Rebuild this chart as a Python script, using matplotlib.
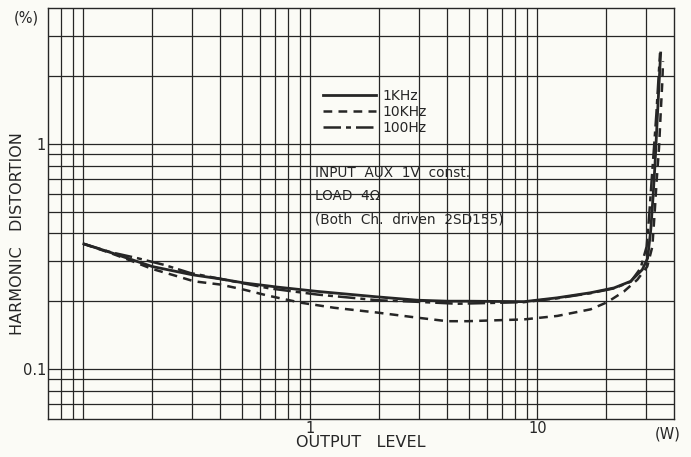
import matplotlib
matplotlib.use('Agg')
import matplotlib.pyplot as plt

# Output level (W) and distortion (%)
x_1k = [0.1007, 0.132, 0.1616, 0.2014, 0.302, 0.4026, 0.5105, 0.6466, 0.7155, 1.074, 1.973, 2.96,
        4.01, 4.92, 8.74, 12.25, 17.17, 21.77, 25.77, 29.0, 30.6, 31.6, 32.34, 33.0, 33.55, 34.12, 34.72, 34.93]
y_1k = [0.359, 0.329, 0.307, 0.285, 0.262, 0.251, 0.241, 0.234, 0.231, 0.221, 0.209, 0.202,
        0.200, 0.200, 0.199, 0.207, 0.218, 0.229, 0.245, 0.276, 0.31, 0.414, 0.58, 0.814, 1.141, 1.6, 2.244, 2.525]

x_10k = [0.1007, 0.132, 0.1616, 0.2014, 0.2596, 0.3075, 0.4026, 0.5105, 0.6466, 0.906, 1.272, 1.973, 2.96,
         4.01, 4.92, 8.74, 12.25, 17.17, 20.34, 24.1, 27.57, 30.5, 32.11, 32.86, 33.55, 34.37, 34.93, 35.54, 35.79]
y_10k = [0.359, 0.327, 0.303, 0.278, 0.258, 0.245, 0.237, 0.225, 0.212, 0.197, 0.187, 0.178, 0.169,
         0.163, 0.163, 0.166, 0.172, 0.184, 0.198, 0.221, 0.249, 0.285, 0.349, 0.49, 0.687, 0.963, 1.352, 1.894, 2.32]

x_100 = [0.1007, 0.132, 0.173, 0.2267, 0.2963, 0.66, 1.074, 1.973, 2.96, 4.44, 8.74, 12.25, 17.17,
         21.77, 25.77, 28.5, 30.3, 31.15, 31.88, 32.66, 33.45, 34.12, 34.72]
y_100 = [0.359, 0.330, 0.3105, 0.290, 0.2667, 0.228, 0.214, 0.202, 0.1987, 0.1948, 0.198, 0.206, 0.217,
         0.228, 0.244, 0.28, 0.349, 0.49, 0.687, 0.963, 1.352, 1.894, 2.525]

series_labels = ['1KHz', '10KHz', '100Hz']
note_lines = ['INPUT  AUX  1V  const.', 'LOAD  4Ω', '(Both  Ch.  driven  2SD155)']

ink = '#262626'
paper = '#fbfbf6'

fig = plt.figure(figsize=(6.91, 4.57), dpi=100, facecolor=paper)
ax = fig.add_axes([48/691, 38/457, 626/691, 411/457])
ax.set_facecolor(paper)
ax.set_xscale('log')
ax.set_yscale('log')
ax.set_xlim(0.07, 40)
ax.set_ylim(0.06, 4)

# full log grid, every 1..9 in each decade
xgrid = [m * 10**e for e in (-2, -1, 0, 1) for m in range(1, 10)]
ygrid = [m * 10**e for e in (-2, -1, 0) for m in range(1, 10)]
for g in xgrid:
    if 0.07 < g < 40:
        ax.axvline(g, color=ink, lw=0.9, zorder=1)
for g in ygrid:
    if 0.06 < g < 4:
        ax.axhline(g, color=ink, lw=0.9, zorder=1)

for s in ax.spines.values():
    s.set_color(ink)
    s.set_linewidth(1.0)

l1, = ax.plot(x_1k, y_1k, color=ink, lw=2.0, zorder=3, solid_joinstyle='round')
l2, = ax.plot(x_10k, y_10k, color=ink, lw=1.8, dashes=(3.5, 2.5), zorder=3)
l3, = ax.plot(x_100, y_100, color=ink, lw=1.8, dashes=(7, 2, 2, 2), zorder=3)

ax.legend([l1, l2, l3], series_labels, loc='upper left', bbox_to_anchor=(0.428, 0.82),
          frameon=False, fontsize=10, handlelength=3.8, handletextpad=0.5,
          labelspacing=0.15, borderpad=0, labelcolor=ink)

for i, t in enumerate(note_lines):
    ax.text(0.427, 0.598 - i * 0.056, t, transform=ax.transAxes, fontsize=9.8,
            color=ink, va='center', ha='left')

ax.set_xticks([1, 10])
ax.set_xticklabels(['1', '10'])
ax.set_yticks([0.1, 1])
ax.set_yticklabels(['0.1', '1'])
ax.minorticks_off()
ax.tick_params(length=0, labelsize=10.5, labelcolor=ink, pad=1.5)

ax.text(0.99, -0.037, '(W)', transform=ax.transAxes, fontsize=10.5, color=ink, ha='center', va='center')
ax.text(-0.034, 0.976, '(%)', transform=ax.transAxes, fontsize=10.5, color=ink, ha='center', va='center')
ax.text(0.5, -0.058, 'OUTPUT   LEVEL', transform=ax.transAxes, fontsize=11.5, color=ink,
        ha='center', va='center')
ax.text(-0.048, 0.45, 'HARMONIC   DISTORTION', transform=ax.transAxes, fontsize=11.5, color=ink,
        ha='center', va='center', rotation=90)

fig.savefig('out.png', dpi=100, facecolor=paper)
